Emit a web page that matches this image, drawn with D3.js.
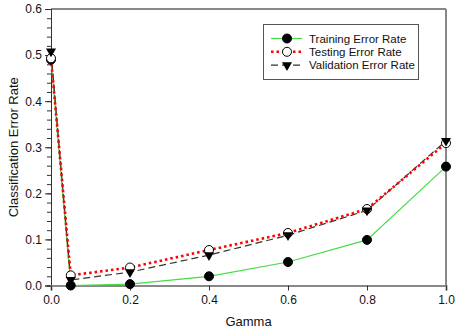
<!DOCTYPE html>
<html>
<head>
<meta charset="utf-8">
<script src="https://cdn.jsdelivr.net/npm/d3@7"></script>
<style>
  body { margin: 0; background: #fff; }
  text { font-family: "Liberation Sans", Arial, sans-serif; fill: #111; }
</style>
</head>
<body>
<div class="canvas"></div>
<script>
// data
const gamma = [0, 0.05, 0.2, 0.4, 0.6, 0.8, 1.0]
const training = [0.49, 0.0, 0.003, 0.02, 0.051, 0.099, 0.258]
const testing = [0.493, 0.022, 0.039, 0.077, 0.114, 0.166, 0.309]
const validation = [0.508, 0.012, 0.029, 0.066, 0.109, 0.163, 0.314]
const xTicks = [0, 0.2, 0.4, 0.6, 0.8, 1.0]
const yTicks = [0, 0.1, 0.2, 0.3, 0.4, 0.5, 0.6]
const yMinor = d3.range(0, 0.6001, 0.02)

const width = 459, height = 332
const margin = {top: 9, right: 13, bottom: 46.5, left: 51}

const svg = d3.select('.canvas').append('svg')
  .attr('width', width)
  .attr('height', height)

const x = d3.scaleLinear().domain([0, 1]).range([margin.left, width - margin.right])
const y = d3.scaleLinear().domain([0, 0.6]).range([height - margin.bottom, margin.top])

// frame (top and right)
svg.append('line')
  .attr('x1', x(0)).attr('x2', x(1)).attr('y1', y(0.6)).attr('y2', y(0.6))
  .attr('stroke', '#888').attr('stroke-width', 2)
svg.append('line')
  .attr('x1', x(1)).attr('x2', x(1)).attr('y1', y(0.6)).attr('y2', y(0))
  .attr('stroke', '#888').attr('stroke-width', 2)

// y axis with minor ticks
const yAxis = svg.append('g').attr('transform', `translate(${x(0)},0)`)
yAxis.call(d3.axisLeft(y).tickValues(yMinor).tickSize(4).tickFormat(''))
yAxis.append('g').call(d3.axisLeft(y).tickValues(yTicks).tickSize(6).tickPadding(3)
  .tickFormat(d3.format('.1f')))
yAxis.selectAll('path, line').attr('stroke', '#333')
yAxis.selectAll('text').attr('font-size', 12).attr('fill', '#111')
  .style('font-family', '"Liberation Sans", Arial, sans-serif')

// x axis
const xAxis = svg.append('g').attr('transform', `translate(0,${y(0)})`)
xAxis.call(d3.axisBottom(x).tickValues(xTicks).tickSize(5).tickPadding(5)
  .tickFormat(d3.format('.1f')))
xAxis.select('path').attr('stroke', '#888').attr('stroke-width', 2)
xAxis.selectAll('line').attr('stroke', '#333')
xAxis.selectAll('text').attr('font-size', 12).attr('fill', '#111')
  .style('font-family', '"Liberation Sans", Arial, sans-serif')

// axis titles
svg.append('text')
  .attr('x', (x(0) + x(1)) / 2).attr('y', 326)
  .attr('text-anchor', 'middle').attr('font-size', 13)
  .text('Gamma')
svg.append('text')
  .attr('transform', `translate(18,${(y(0) + y(0.6)) / 2}) rotate(-90)`)
  .attr('text-anchor', 'middle').attr('font-size', 13)
  .text('Classification Error Rate')

const series = [
  {name: 'Training Error Rate', values: training, color: '#44dd44', width: 1.2, dash: null, marker: 'filled'},
  {name: 'Validation Error Rate', values: validation, color: '#333', width: 1.2, dash: '7,4', marker: 'triangle'},
  {name: 'Testing Error Rate', values: testing, color: '#ff0000', width: 2.6, dash: '2.5,3', marker: 'open'}
]

const line = d3.line().x((d, i) => x(gamma[i])).y(d => y(d))

series.forEach(s => {
  svg.append('path')
    .datum(s.values)
    .attr('d', line)
    .attr('fill', 'none')
    .attr('stroke', s.color)
    .attr('stroke-width', s.width)
    .attr('stroke-dasharray', s.dash)
})

const tri = d3.symbol().type(d3.symbolTriangle).size(44)

function drawMarker(g, kind, cx, cy) {
  if (kind === 'triangle') {
    g.append('path')
      .attr('d', tri())
      .attr('transform', `translate(${cx},${cy}) rotate(180)`)
      .attr('fill', '#000')
  } else {
    g.append('circle')
      .attr('cx', cx).attr('cy', cy).attr('r', 4.5)
      .attr('fill', kind === 'filled' ? '#000' : '#fff')
      .attr('stroke', '#000').attr('stroke-width', 1)
  }
}

const markerOrder = [series[0], series[2], series[1]]
markerOrder.forEach(s => {
  const g = svg.append('g')
  s.values.forEach((v, i) => drawMarker(g, s.marker, x(gamma[i]), y(v)))
})

// legend
const legend = svg.append('g')
legend.append('rect')
  .attr('x', 263.5).attr('y', 24.5).attr('width', 155).attr('height', 55)
  .attr('fill', '#fff').attr('stroke', '#555').attr('stroke-width', 1)

const legendOrder = [series[0], series[2], series[1]]
legendOrder.forEach((s, i) => {
  const ly = 38.5 + i * 13.3
  legend.append('line')
    .attr('x1', 271).attr('x2', 302).attr('y1', ly).attr('y2', ly)
    .attr('stroke', s.color).attr('stroke-width', s.width)
    .attr('stroke-dasharray', s.dash)
  drawMarker(legend, s.marker, 287, ly)
  legend.append('text')
    .attr('x', 309).attr('y', ly + 4)
    .attr('font-size', 11.5)
    .text(s.name)
})
</script>
</body>
</html>
